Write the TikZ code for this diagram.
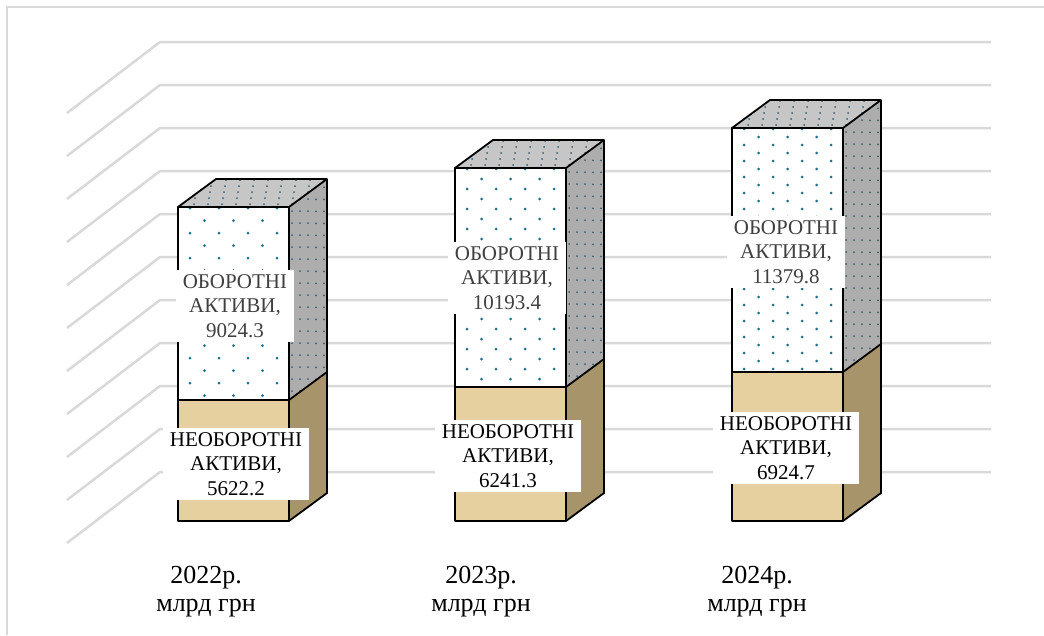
\documentclass[tikz,border=0pt]{standalone}
\usepackage{fontspec}
\setmainfont{Liberation Serif}
\usepackage{tikz}

\definecolor{gridgray}{HTML}{D9D9D9}
\definecolor{dotblue}{HTML}{1F6E8C}
\definecolor{dotdark}{HTML}{3A5F70}
\definecolor{topgray}{HTML}{C6C6C6}
\definecolor{sidegray}{HTML}{ADADAD}
\definecolor{tanfront}{HTML}{E6D09F}
\definecolor{tanside}{HTML}{A8946A}
\definecolor{labelgray}{HTML}{404040}

\begin{document}
\begin{tikzpicture}[x=1pt,y=-1pt,
    grid/.style={draw=gridgray,line width=2.5pt},
    edge/.style={draw=black,line width=1.8pt,line join=round},
    toplbl/.style={fill=white,text=labelgray,align=center,inner xsep=7pt,inner ysep=4pt,font=\fontsize{21}{24.5}\selectfont},
    botlbl/.style={toplbl,text=black},
    yearlbl/.style={align=center,font=\fontsize{26}{28}\selectfont}]
    \useasboundingbox (0,0) rectangle (1044,635);
    \draw[gridgray,line width=1.5pt] (1044,7) -- (7,7) -- (7,635);
    \foreach \y in {42,85,...,472}
        \draw[grid] (67,{\y+71}) -- (160,\y) -- (991,\y);

    % columns: left x / top y / split y / dot step
    \foreach \L/\T/\M/\s in {178/207/400/12.5, 455/168/387/10, 732/128/372/8} {
        \fill[tanfront] (\L,\M) rectangle ({\L+111},521);
        \fill[tanside] ({\L+111},\M) -- ({\L+149},{\M-28}) -- ({\L+149},493) -- ({\L+111},521) -- cycle;
        \fill[white] (\L,\T) rectangle ({\L+111},\M);
        \begin{scope}
            \clip (\L,\T) rectangle ({\L+111},\M);
            \foreach \r in {0,...,32}
                \foreach \c in {0,...,4}
                    \fill[dotblue] ({\L+12+29*\c+14.5*mod(\r,2)},{\T+1+\s*\r}) circle (1.5pt);
        \end{scope}
        \fill[sidegray] ({\L+111},\T) -- ({\L+149},{\T-28}) -- ({\L+149},{\M-28}) -- ({\L+111},\M) -- cycle;
        \begin{scope}
            \clip ({\L+111},\T) -- ({\L+149},{\T-28}) -- ({\L+149},{\M-28}) -- ({\L+111},\M) -- cycle;
            \foreach \r in {0,...,26}
                \foreach \c in {0,...,4}
                    \fill[dotdark] ({\L+114+8*\c},{\T-28+12*\r+6*mod(\c,2)-5.9*\c+8}) circle (1pt);
        \end{scope}
        \fill[topgray] (\L,\T) -- ({\L+38},{\T-28}) -- ({\L+149},{\T-28}) -- ({\L+111},\T) -- cycle;
        \begin{scope}
            \clip (\L,\T) -- ({\L+38},{\T-28}) -- ({\L+149},{\T-28}) -- ({\L+111},\T) -- cycle;
            \foreach \r in {0,...,4}
                \foreach \c in {0,...,11}
                    \fill[dotdark] ({\L+2+14*\c+7*mod(\r,2)+8*\r},{\T-3-6*\r}) circle (1pt);
        \end{scope}
        \draw[edge] (\L,\T) rectangle ({\L+111},521);
        \draw[edge] (\L,\M) -- ({\L+111},\M) -- ({\L+149},{\M-28});
        \draw[edge] (\L,\T) -- ({\L+38},{\T-28}) -- ({\L+149},{\T-28}) -- ({\L+149},493) -- ({\L+111},521);
        \draw[edge] ({\L+111},\T) -- ({\L+149},{\T-28});
    }

    \node[toplbl] (up22) at (235,306) {ОБОРОТНІ\\АКТИВИ,\\9024.3};
    \node[botlbl] (lo22) at (236,464) {НЕОБОРОТНІ\\АКТИВИ,\\5622.2};
    \node[toplbl] (up23) at (507,278) {ОБОРОТНІ\\АКТИВИ,\\10193.4};
    \node[botlbl] (lo23) at (508,456) {НЕОБОРОТНІ\\АКТИВИ,\\6241.3};
    \node[toplbl] (up24) at (786,252) {ОБОРОТНІ\\АКТИВИ,\\11379.8};
    \node[botlbl] (lo24) at (786,448) {НЕОБОРОТНІ\\АКТИВИ,\\6924.7};

    \node[yearlbl] (yr22) at (206,592) {2022р.\\млрд грн};
    \node[yearlbl] (yr23) at (481,592) {2023р.\\млрд грн};
    \node[yearlbl] (yr24) at (757,592) {2024р.\\млрд грн};
\end{tikzpicture}
\end{document}
